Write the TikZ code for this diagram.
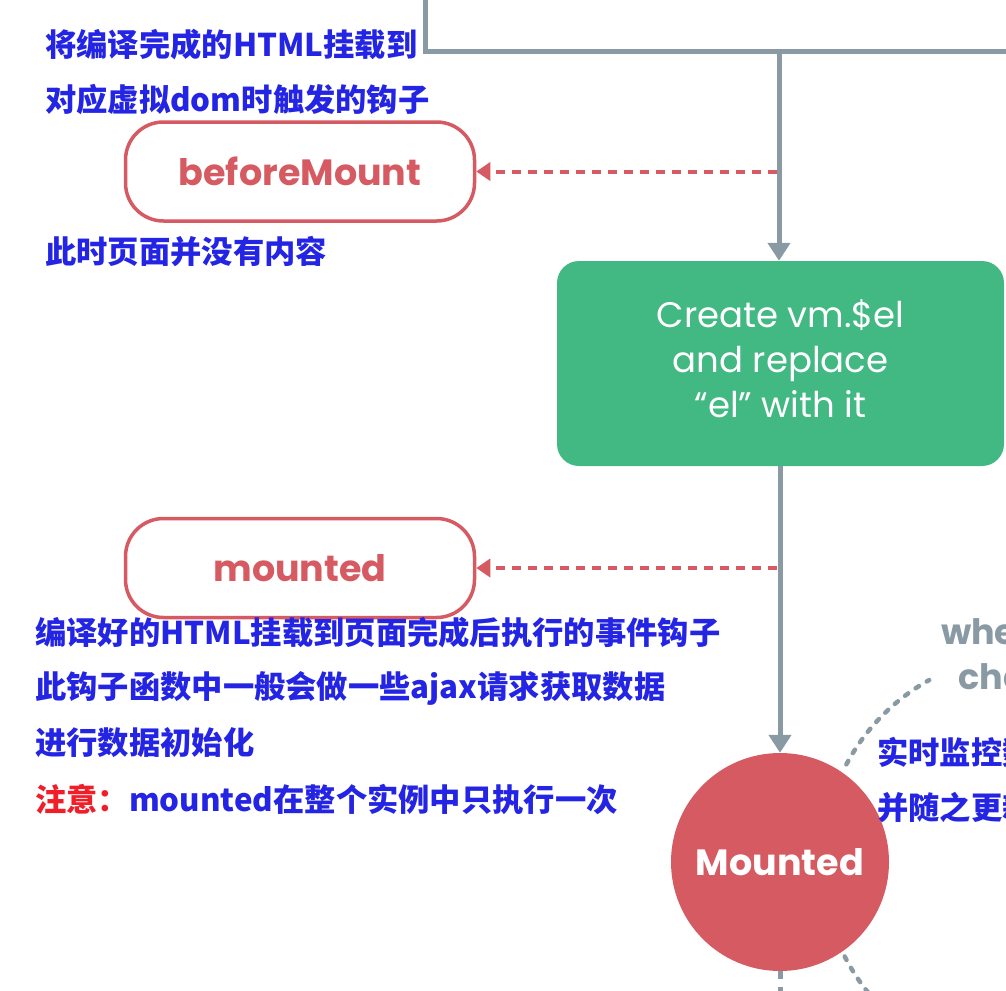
\documentclass[tikz,border=0pt]{standalone}
\usepackage{fontspec}
\setmainfont{Poppins}
\newfontfamily\cjk{Noto Sans CJK SC}
\usetikzlibrary{arrows.meta}
\definecolor{lgray}{RGB}{138,154,165}
\definecolor{hred}{RGB}{214,90,98}
\definecolor{vgreen}{RGB}{66,184,131}
\definecolor{tblue}{RGB}{36,36,228}
\definecolor{nred}{RGB}{240,30,40}
\begin{document}
\begin{tikzpicture}[x=1pt,y=1pt,
  hookbox/.style={draw=hred,line width=3.5pt,rounded corners=38pt,minimum width=349pt,minimum height=99pt,inner sep=0pt,text=hred,font=\fontsize{36.5}{40}\selectfont\bfseries},
  greenbox/.style={fill=vgreen,rounded corners=22pt,minimum width=447pt,minimum height=205pt,inner sep=0pt,text=white,align=center,font=\fontsize{35.5}{45}\selectfont},
  eventcircle/.style={circle,fill=hred,minimum size=218pt,inner sep=0pt,text=white,font=\fontsize{36.5}{40}\selectfont\bfseries},
  grayline/.style={draw=lgray,line width=5pt},
  grayarrow/.style={grayline,-{Triangle[width=22pt,length=18pt]}},
  hookline/.style={draw=hred,line width=4pt,dash pattern=on 9pt off 7pt,-{Triangle[width=18pt,length=14pt]}},
  loopline/.style={draw=lgray,line width=4.5pt,line cap=round,dash pattern=on 4pt off 9pt},
  note/.style={anchor=west,inner sep=0pt,text=tblue,font=\cjk\bfseries\fontsize{31.3}{36}\selectfont},
  looplabel/.style={inner sep=0pt,text=lgray,align=center,font=\fontsize{35}{45}\selectfont\bfseries}
]
\useasboundingbox (0,0) rectangle (1006,-990);
\clip (0,0) rectangle (1006,-990);

% nodes
\node[hookbox] (bm) at (300,-171.5) {beforeMount};
\node[hookbox] (md) at (300,-568) {mounted};
\node[greenbox] (cr) at (780.5,-363.5) {\raisebox{7pt}{\begin{tabular}{@{}c@{}}Create vm.\$el\\and replace\\“el” with it\end{tabular}}};
\node[eventcircle] (mc) at (780,-862) {Mounted};

% top connector
\coordinate (t0) at (425,5);
\coordinate (t2) at (1012,-52);
\coordinate (j) at (779,-52);
\draw[grayline] (t0) |- (t2);
\draw[grayarrow] (j) -- (j |- cr.north);
\draw[grayarrow] (cr.south -| mc.north) -- (mc.north);
\coordinate (bot) at (780,-1000);
\draw[draw=lgray,line width=5pt,dash pattern=on 8pt off 8pt] (mc.south) -- (bot);

% hook connectors
\coordinate (h1) at (777,-171.5);
\coordinate (h2) at (777,-568);
\draw[hookline] (h1) -- (bm.east);
\draw[hookline] (h2) -- (md.east);

% update loop
\coordinate (lc) at (1030,-862);
\draw[loopline] (lc) ++(152:208) arc[start angle=152,end angle=119,radius=208];
\draw[loopline] (lc) ++(207:208) arc[start angle=207,end angle=240,radius=208];
\node[looplabel] (wd) at (1037,-659) {when data\\changes};

% notes
\node[note] (n1) at (45,-45) {将编译完成的HTML挂载到};
\node[note] (n2) at (45,-100) {对应虚拟dom时触发的钩子};
\node[note] (n3) at (45,-252) {此时页面并没有内容};
\node[note] (n4) at (35,-633) {编译好的HTML挂载到页面完成后执行的事件钩子};
\node[note] (n5) at (35,-688) {此钩子函数中一般会做一些ajax请求获取数据};
\node[note] (n6) at (35,-743) {进行数据初始化};
\node[note] (n7) at (35,-800) {{\color{nred}注意：}mounted在整个实例中只执行一次};
\node[note] (n8) at (877,-752) {实时监控数据变化};
\node[note] (n9) at (877,-808) {并随之更新DOM};
\end{tikzpicture}
\end{document}
